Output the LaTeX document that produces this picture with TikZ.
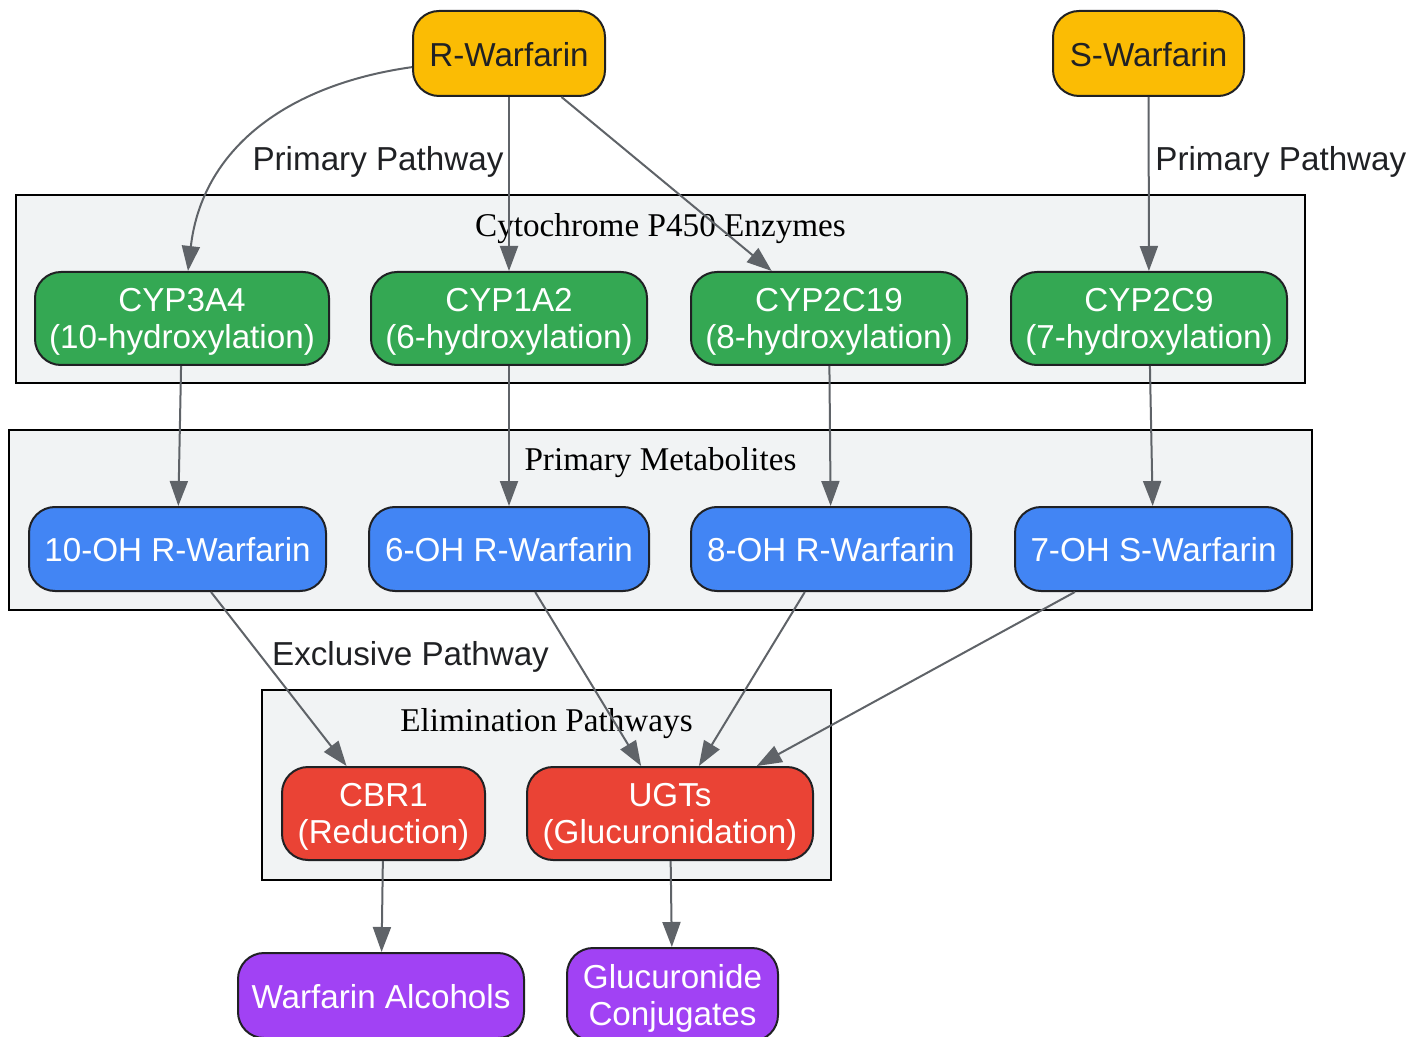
\documentclass[tikz,border=0pt]{standalone}
\usepackage{fontspec}
\setmainfont{Liberation Serif}
\newfontfamily\nodefont{Liberation Sans}
\usetikzlibrary{arrows.meta}
\definecolor{cyellow}{HTML}{FBBC04}
\definecolor{cgreen}{HTML}{34A853}
\definecolor{cblue}{HTML}{4285F4}
\definecolor{cred}{HTML}{EA4335}
\definecolor{cpurple}{HTML}{A142F4}
\definecolor{cluster}{HTML}{F1F3F4}
\definecolor{edgegray}{HTML}{5F6368}
\definecolor{darktext}{HTML}{202124}
\tikzset{
  box/.style={draw=darktext, line width=1pt, rounded corners=13pt, inner sep=0pt,
    align=center, font=\nodefont\fontsize{16.6}{18.5}\selectfont, text=white},
  oneline/.style={execute at begin node={\rule{0pt}{13.1pt}}},
  twoline/.style={execute at begin node={\rule{0pt}{17pt}}, text depth=0pt},
  yel/.style={box, oneline, fill=cyellow, text=darktext, minimum height=42.5pt},
  grn/.style={box, twoline, fill=cgreen, minimum height=46.5pt},
  blu/.style={box, oneline, fill=cblue, minimum height=42pt},
  rd/.style={box, twoline, fill=cred, minimum height=46.5pt},
  pur/.style={box, fill=cpurple},
  clusterbox/.style={draw=black, line width=1pt, fill=cluster},
  clusterlabel/.style={font=\fontsize{16.6}{19}\selectfont, text=black, inner sep=0pt},
  edge/.style={draw=edgegray, line width=1pt, -{Triangle[length=12.5pt,width=9pt]}},
  elabel/.style={font=\nodefont\fontsize{16.6}{18.5}\selectfont, text=darktext, inner sep=0pt}
}
\begin{document}
\begin{tikzpicture}[x=0.5pt, y=-0.5pt]
\useasboundingbox (0,0) rectangle (1423,1037);
% clusters
\draw[clusterbox] (16,195) rectangle (1305,383);
\node[clusterlabel] (l1) at (660.5,229) {Cytochrome P450 Enzymes};
\draw[clusterbox] (9,430) rectangle (1312,610);
\node[clusterlabel] (l2) at (660.5,463) {Primary Metabolites};
\draw[clusterbox] (262,690) rectangle (831,880);
\node[clusterlabel] (l3) at (546.5,724) {Elimination Pathways};
% nodes
\node[yel, minimum width=96pt] (rw) at (509,53.5) {R-Warfarin};
\node[yel, minimum width=95.5pt] (sw) at (1148.5,53.5) {S-Warfarin};
\node[grn, minimum width=147pt] (c3a4) at (182,318.5) {CYP3A4\\(10-hydroxylation)};
\node[grn, minimum width=138pt] (c1a2) at (509,318.5) {CYP1A2\\(6-hydroxylation)};
\node[grn, minimum width=138pt] (c2c19) at (829,318.5) {CYP2C19\\(8-hydroxylation)};
\node[grn, minimum width=138pt] (c2c9) at (1149,318.5) {CYP2C9\\(7-hydroxylation)};
\node[blu, minimum width=148.5pt] (m10) at (177.5,549) {10-OH R-Warfarin};
\node[blu, minimum width=140pt] (m6) at (509,549) {6-OH R-Warfarin};
\node[blu, minimum width=140pt] (m8) at (831,549) {8-OH R-Warfarin};
\node[blu, minimum width=138.5pt] (m7) at (1153.5,549) {7-OH S-Warfarin};
\node[rd, minimum width=101.5pt] (cbr) at (383.5,813.5) {CBR1\\(Reduction)};
\node[rd, minimum width=143pt] (ugt) at (670,813.5) {UGTs\\(Glucuronidation)};
\node[pur, oneline, minimum width=143pt, minimum height=42.5pt] (alc) at (381,995.5) {Warfarin Alcohols};
\node[pur, twoline, minimum width=105.5pt, minimum height=46.5pt] (glc) at (672.5,994.5) {Glucuronide\\Conjugates};
% edges
\coordinate (c3top) at (188,271);
\draw[edge] (rw.188) .. controls (285,85) and (202,150) .. (c3top);
\node[elabel] (lab1) at (378,162) {Primary Pathway};
\draw[edge] (rw) -- (c1a2);
\draw[edge] (rw) -- (c2c19);
\draw[edge] (sw) -- (c2c9);
\node[elabel, anchor=west] (lab2) at (1155,162) {Primary Pathway};
\draw[edge] (c3a4) -- (m10);
\draw[edge] (c1a2) -- (m6);
\draw[edge] (c2c19) -- (m8);
\draw[edge] (c2c9) -- (m7);
\draw[edge] (m10) -- (cbr);
\node[elabel] (lab3) at (410.5,657) {Exclusive Pathway};
\draw[edge] (m6) -- (ugt);
\draw[edge] (m8) -- (ugt);
\draw[edge] (m7) -- (ugt);
\draw[edge] (cbr) -- (alc);
\draw[edge] (ugt) -- (glc);
\end{tikzpicture}
\end{document}
